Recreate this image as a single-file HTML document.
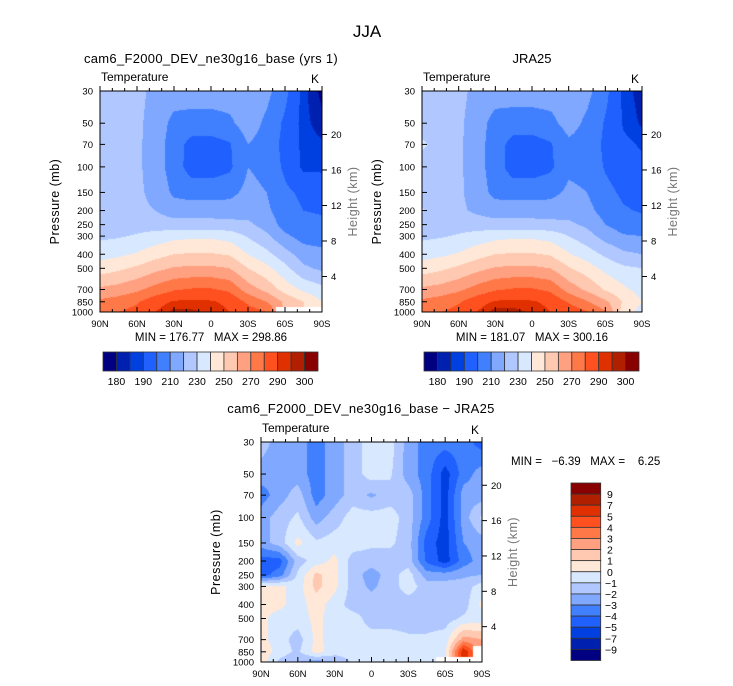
<!DOCTYPE html>
<html><head><meta charset="utf-8">
<style>
html,body{margin:0;padding:0;background:#fff;}
#root{position:relative;width:733px;height:686px;overflow:hidden;font-family:"Liberation Sans",sans-serif;}
canvas{position:absolute;}
svg{position:absolute;left:0;top:0;}
</style></head>
<body>
<div id="root">
<canvas id="cA"></canvas>
<canvas id="cB"></canvas>
<canvas id="cC"></canvas>
<svg id="svg" width="733" height="686"></svg>
</div>
<script>
// ---- data ----
const latitudes = [90,75,60,45,30,15,0,-15,-30,-45,-60,-75,-90];
const pressures = [30,50,70,100,150,200,250,300,400,500,700,850,1000];
const modelTemp = [
[225,225,223,217,215,215,215,215,215,213,203,187,178],
[225,225,222,216,207,206,206,208,215,208,198,187,182],
[224,224,222,215,205,196,196,199,210,206,197,188,186],
[224,224,222,215,205,195,195,198,210,207,198,188,188],
[224,224,222,217,208,206,206,207,213,210,202,198,197],
[224,224,222,220,215,215,215,215,216,212,204,200,199],
[226,226,226,225,224,224,224,223,222,216,206,203,202],
[228,229,231,234,237,238,238,236,229,222,212,206,205],
[236,238,241,246,250,251,251,249,240,233,224,215,213],
[245,248,252,257,261,262,262,260,250,243,233,222,218],
[262,264,268,274,279,281,281,278,265,257,246,238,233],
[272,275,279,286,291,292,291,288,278,270,258,250,240],
[277,280,283,290,297,296,294,290,285,280,null,null,null]];
const jraTemp = [
[225,225,223,217,215,215,215,215,215,213,203,188,182],
[225,225,222,215,206,205,205,207,214,208,199,189,184],
[232,225,222,214,205,196,196,199,208,206,198,192,189],
[225,225,222,214,205,195,195,198,208,207,199,194,192],
[225,224,222,215,207,206,206,207,212,210,203,198,197],
[231,224,222,218,215,215,215,215,216,213,206,201,199],
[226,226,226,225,224,224,224,223,222,218,210,205,204],
[228,229,231,234,237,238,238,236,230,224,216,211,210],
[236,238,241,246,250,251,251,249,241,235,228,222,220],
[245,248,252,257,261,262,262,260,251,245,237,232,230],
[262,264,268,274,279,281,281,278,266,258,249,242,236],
[272,275,279,286,291,292,291,288,279,271,262,249,240],
[277,280,283,290,298,297,294,290,286,281,271,245,236]];
const diffTemp = [
[-1.5,-2.5,-2.5,-3.5,-2.5,-1.5,-0.5,-0.5,-2.5,-3.5,-3.5,-3.5,-4.5],
[-2.5,-2.5,-2.5,-3.5,-2.5,-1.5,-0.5,-0.8,-2.5,-3.5,-5.5,-3.5,-2.5],
[-3.5,-2.5,-1.5,-3.5,-2.5,-1.5,-2.2,-1.5,-1.5,-3.5,-5.5,-2.5,-2.5],
[-2.5,-1.5,-0.8,-2.5,-1.5,-0.5,-0.5,-0.5,-1.5,-3.5,-5.5,-2.5,-0.8],
[-2.5,-1.5,0.3,-0.8,-0.5,-0.5,-0.8,-0.8,-1.5,-4.5,-5.5,-3.0,-2.5],
[-4.5,-4.5,-1.5,-0.5,0.3,-1.5,-1.5,-1.5,-1.5,-4.2,-5.5,-3.5,-2.5],
[-4.5,-3.5,-0.8,1.3,0.3,-1.5,-2.5,-1.5,-0.5,-2.5,-2.5,-2.2,-2.0],
[0.3,0.3,-0.5,1.3,0.3,-1.5,-2.2,-1.5,-0.5,-1.5,-1.5,-1.5,-0.5],
[0.3,0.3,-0.5,0.5,-0.5,-1.5,-1.5,-1.5,-1.5,-1.5,-1.5,-1.5,0.3],
[0.3,-0.5,-0.5,0.3,-0.5,-0.5,-1.5,-1.5,-1.5,-1.5,-1.5,-0.8,-0.5],
[0.3,-0.5,-1.5,0.3,-0.5,-0.5,-0.5,-0.5,-0.8,-0.8,-0.5,2.5,2.0],
[0.8,-0.5,-1.2,0.4,-0.5,-0.5,-0.5,-0.5,-0.5,-0.5,-0.3,6.0,null],
[0.5,-1.2,-2.0,-2.5,-2.0,-0.8,-0.5,-0.5,-0.5,-0.5,null,null,null]];
const tempLevels = [180,185,190,200,210,220,230,240,250,260,270,280,290,295,300];
const tempLabels = ["180","190","210","230","250","270","290","300"];
const diffLevels = [-9,-7,-5,-4,-3,-2,-1,0,1,2,3,4,5,7,9];
const diffLabels = ["9","7","5","4","3","2","1","0","\u22121","\u22122","\u22123","\u22124","\u22125","\u22127","\u22129"];
const latTicks = ["90N","60N","30N","0","30S","60S","90S"];
const heightTicks = [4,8,12,16,20];
const palette = ["#000080","#0020b0","#0040e0","#2060ff","#4080ff","#80a8ff","#b0c8ff","#d8e8ff","#ffe8d8","#ffc8b0","#ffa080","#ff7848","#ff5020","#e03000","#b02000","#880000"];

const NS="http://www.w3.org/2000/svg";
const svg=document.getElementById('svg');
function mk(tag,attrs,text){const e=document.createElementNS(NS,tag);for(const k in attrs)e.setAttribute(k,attrs[k]);if(text!==undefined)e.textContent=text;svg.appendChild(e);return e;}
function hex(c){return [parseInt(c.substr(1,2),16),parseInt(c.substr(3,2),16),parseInt(c.substr(5,2),16)];}
const palRGB=palette.map(hex);

function drawPlot(id,data,levels,box,prefix){
  const {x0,x1,y0,y1}=box, W=x1-x0, H=y1-y0;
  const xOf=lat=>x0+(90-lat)/180*W;
  const lp0=Math.log(30), lp1=Math.log(1000);
  const yOf=p=>y0+(Math.log(p)-lp0)/(lp1-lp0)*H;
  const cv=document.getElementById(id);
  cv.width=W;cv.height=H;cv.style.left=x0+'px';cv.style.top=y0+'px';
  const ctx=cv.getContext('2d');const img=ctx.createImageData(W,H);
  const filled=data.map((row,r)=>row.map((v,c)=>{if(v!==null)return v;for(let rr=r;rr>=0;rr--)if(data[rr][c]!==null)return data[rr][c];return 0;}));
  const yl=pressures.map(yOf), xl=latitudes.map(xOf);
  for(let py=0;py<H;py++){
    const Y=y0+py+0.5;let r=0;while(r<yl.length-2&&Y>yl[r+1])r++;
    let fy=(Y-yl[r])/(yl[r+1]-yl[r]);fy=Math.max(0,Math.min(1,fy));
    const rn=fy<0.5?r:r+1;
    for(let px=0;px<W;px++){
      const X=x0+px+0.5;let c=0;while(c<xl.length-2&&X>xl[c+1])c++;
      let fx=(X-xl[c])/(xl[c+1]-xl[c]);fx=Math.max(0,Math.min(1,fx));
      const cn=fx<0.5?c:c+1;const k=(py*W+px)*4;
      if(data[rn][cn]===null){img.data[k]=255;img.data[k+1]=255;img.data[k+2]=255;img.data[k+3]=255;continue;}
      const v=filled[r][c]*(1-fx)*(1-fy)+filled[r][c+1]*fx*(1-fy)+filled[r+1][c]*(1-fx)*fy+filled[r+1][c+1]*fx*fy;
      let i=0;while(i<levels.length&&v>=levels[i])i++;
      const col=palRGB[i];img.data[k]=col[0];img.data[k+1]=col[1];img.data[k+2]=col[2];img.data[k+3]=255;
    }
  }
  ctx.putImageData(img,0,0);
  let e;
  e=mk('rect',{x:x0,y:y0,width:W,height:H,fill:'none',stroke:'#000','stroke-width':1});
  
  pressures.forEach(p=>{const y=yOf(p);
    e=mk('line',{x1:x0,x2:x0+5,y1:y,y2:y,stroke:'#000'});
    
    e=mk('text',{x:x0-7,y:y+3.5,'font-size':9.5,'text-anchor':'end',fill:'#000'},String(p));
    
  });
  for(let lat=90;lat>=-90;lat-=10){const x=xOf(lat);const major=lat%30===0;const l=major?5:3;
    e=mk('line',{x1:x,x2:x,y1:y1,y2:y1-l,stroke:'#000'});
    
    e=mk('line',{x1:x,x2:x,y1:y0,y2:y0-l,stroke:'#000'});
    
  }
  latTicks.forEach((t,i)=>{const x=x0+i/6*W;
    e=mk('text',{x:x,y:y1+15,'font-size':9.5,'text-anchor':'middle',fill:'#000'},t);
    
  });
  heightTicks.forEach(h=>{const y=yOf(1000*Math.exp(-h/7.1));
    e=mk('line',{x1:x1,x2:x1+5,y1:y,y2:y,stroke:'#000'});
    
    e=mk('text',{x:x1+9,y:y+3.5,'font-size':9.5,fill:'#000'},String(h));
    
  });
  const my=(y0+y1)/2;
  e=mk('text',{x:0,y:0,'font-size':12.5,'text-anchor':'middle',fill:'#000',transform:`translate(${x0-41},${my}) rotate(-90)`,'letter-spacing':'0.5'},'Pressure (mb)');
  
  e=mk('text',{x:0,y:0,'font-size':12.5,'text-anchor':'middle',fill:'#777',transform:`translate(${x1+35},${my}) rotate(-90)`,'letter-spacing':'0.5'},'Height (km)');
  
  e=mk('text',{x:x0+1,y:y0-10,'font-size':12,fill:'#000'},'Temperature');
  
  e=mk('text',{x:x1-3,y:y0-8,'font-size':12,'text-anchor':'end',fill:'#000'},'K');
  
}

function hBar(x0,x1,y0,y1,prefix){
  const w=(x1-x0)/16;let e;
  palette.forEach((c,i)=>{e=mk('rect',{x:x0+i*w,y:y0,width:w,height:y1-y0,fill:c,stroke:'#333','stroke-width':0.8});
    });
  tempLabels.forEach((t,j)=>{const x=x0+(2*j+1)*w;
    e=mk('text',{x:x,y:y1+14,'font-size':10.5,'text-anchor':'middle',fill:'#000'},t);
    });
}

let e;
e=mk('text',{x:367,y:37,'font-size':17,'text-anchor':'middle',fill:'#000'},'JJA');


drawPlot('cA',modelTemp,tempLevels,{x0:100,x1:322,y0:91,y1:312},'model');
e=mk('text',{x:211,y:63,'font-size':13,'text-anchor':'middle',fill:'#000','letter-spacing':'0.3'},'cam6_F2000_DEV_ne30g16_base (yrs 1)');

e=mk('text',{x:211,y:341,'font-size':11.5,'text-anchor':'middle',fill:'#000',style:'white-space:pre'},'MIN = 176.77   MAX = 298.86');

hBar(103,318,352,371,'model');

drawPlot('cB',jraTemp,tempLevels,{x0:422,x1:642,y0:91,y1:312},'jra25');
e=mk('text',{x:532,y:63,'font-size':13,'text-anchor':'middle',fill:'#000'},'JRA25');

e=mk('text',{x:532,y:341,'font-size':11.5,'text-anchor':'middle',fill:'#000',style:'white-space:pre'},'MIN = 181.07   MAX = 300.16');

hBar(424,639,352,371,'jra25');

drawPlot('cC',diffTemp,diffLevels,{x0:261,x1:482,y0:442,y1:662},'diff');
e=mk('text',{x:361,y:413,'font-size':13,'text-anchor':'middle',fill:'#000','letter-spacing':'0.3'},'cam6_F2000_DEV_ne30g16_base \u2212 JRA25');

e=mk('text',{x:511,y:465,'font-size':11.5,fill:'#000',style:'white-space:pre'},'MIN =   \u22126.39   MAX =    6.25');

(function(){const x0=571,x1=600.7,y0=483,y1=660.5,h=(y1-y0)/16;
  palette.slice().reverse().forEach((c,i)=>{e=mk('rect',{x:x0,y:y0+i*h,width:x1-x0,height:h,fill:c,stroke:'#333','stroke-width':0.8});
    });
  diffLabels.forEach((t,i)=>{const y=y0+(i+1)*h;
    e=mk('text',{x:t.length>1?605:607,y:y+4,'font-size':10.5,fill:'#000'},t);
    });
})();
</script>
</body></html>
